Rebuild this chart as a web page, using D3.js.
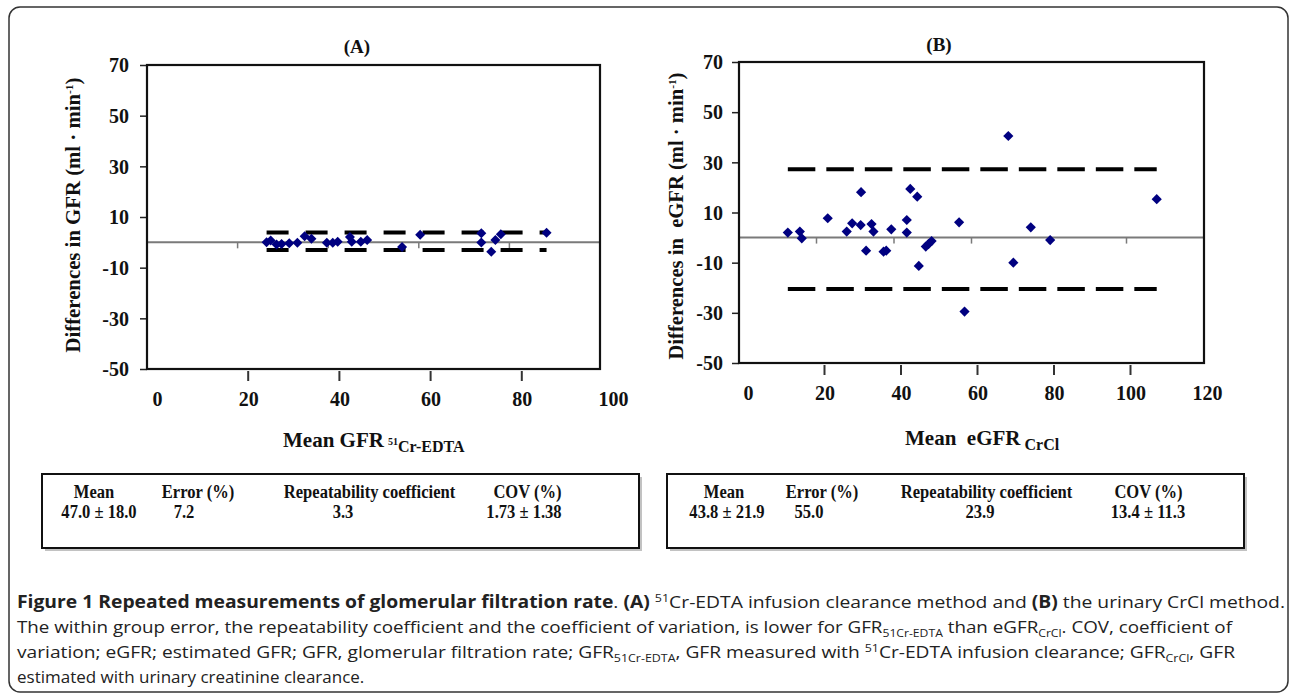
<!DOCTYPE html>
<html>
<head>
<meta charset="utf-8">
<script src="https://cdn.jsdelivr.net/npm/d3@7/dist/d3.min.js"></script>
<style>
  html, body { margin: 0; padding: 0; background: #fff; }
  svg { display: block; }
  .serif { font-family: "Liberation Serif", "Times New Roman", serif; font-weight: bold; fill: #111; }
  .cap { font-family: "Open Sans", "Noto Sans", sans-serif; fill: #222; }
</style>
</head>
<body>
<svg id="chart" width="1290" height="693"></svg>
<script>
// ---------- data ----------
const yTicks = [70, 50, 30, 10, -10, -30, -50];
const aXTicks = [0, 20, 40, 60, 80, 100];
const bXTicks = [0, 20, 40, 60, 80, 100, 120];

// Panel A: mean GFR (51Cr-EDTA) vs difference
const aMean = [26.4, 27.3, 28.6, 29.7, 31.4, 33.2, 34.8, 36.3, 39.7, 41.0, 42.1, 44.8, 45.2, 47.2, 48.6, 56.3, 60.3, 73.8, 73.8, 76.0, 76.9, 78.1, 88.2];
const aDiff = [0.0, 0.7, -0.9, -0.7, -0.4, -0.2, 2.4, 1.4, -0.2, -0.2, 0.2, 2.1, 0.2, 0.2, 0.9, -1.8, 3.0, 3.6, -0.1, -3.7, 0.9, 3.2, 3.8];
const aLimits = [3.9, -3.0];

// Panel B: mean eGFR (CrCl) vs difference
const bMean = [12.6, 15.7, 16.2, 22.9, 27.8, 29.2, 31.4, 31.5, 32.8, 34.2, 34.7, 37.3, 38.0, 39.3, 43.3, 43.3, 44.2, 46.0, 46.4, 48.2, 48.9, 49.7, 56.8, 58.2, 69.5, 70.8, 75.3, 80.3, 107.8];
const bDiff = [2.0, 2.4, -0.3, 7.7, 2.4, 5.7, 5.0, 18.1, -5.2, 5.4, 2.4, -5.6, -5.2, 3.3, 7.0, 2.0, 19.4, 16.3, -11.3, -3.6, -2.6, -1.4, 6.1, -29.5, 40.5, -10.0, 4.1, -1.0, 15.3];
const bLimits = [27.2, -20.5];

// Tables
const tableHeaders = ["Mean", "Error (%)", "Repeatability coefficient", "COV (%)"];
const aTable = ["47.0 \u00b1 18.0", "7.2", "3.3", "1.73 \u00b1 1.38"];
const bTable = ["43.8 \u00b1 21.9", "55.0", "23.9", "13.4 \u00b1 11.3"];

// ---------- drawing ----------
const svg = d3.select("#chart");
const fmt = d => String(d); // plain hyphen-minus, as in the original

// outer figure border
svg.append("rect").attr("x", 9).attr("y", 7).attr("width", 1279).attr("height", 685)
  .attr("rx", 11).attr("fill", "none").attr("stroke", "#333").attr("stroke-width", 1.5);

function panel(cfg) {
  const g = svg.append("g");
  const x = d3.scaleLinear().domain(cfg.xDomain).range(cfg.xRange);
  const y = d3.scaleLinear().domain([70, -50]).range(cfg.yRange);
  const xb = d3.scaleLinear().domain(cfg.xDomain).range(cfg.xbRange); // bottom label axis
  const [x0, x1] = cfg.xRange, [y0, y1] = cfg.yRange;

  // title
  g.append("text").attr("class", "serif").attr("x", cfg.titleX).attr("y", cfg.titleY)
    .attr("text-anchor", "middle").attr("font-size", 19).text(cfg.title);

  // y axis (left) with outward ticks
  const yAxis = d3.axisLeft(y).tickValues(yTicks).tickSize(7).tickPadding(cfg.yPad).tickFormat(fmt);
  const ya = g.append("g").attr("transform", `translate(${x0},0)`).call(yAxis);
  ya.select(".domain").remove();
  ya.selectAll("line").attr("stroke", "#222").attr("stroke-width", 1.5);
  ya.selectAll("text").attr("class", "serif").attr("font-size", 20).attr("fill", "#111").attr("dy", "0.34em");

  // bottom axis labels & ticks
  const xAxis = d3.axisBottom(xb).tickValues(cfg.xTicks).tickSize(0).tickPadding(23).tickFormat(fmt);
  const xa = g.append("g").attr("transform", `translate(0,${y1})`).call(xAxis);
  xa.select(".domain").remove();
  xa.selectAll("text").attr("class", "serif").attr("font-size", 20).attr("fill", "#111");
  g.append("g").selectAll("line").data(cfg.xTicks.slice(1, -1)).join("line")
    .attr("x1", d => xb(d)).attr("x2", d => xb(d)).attr("y1", y1 + 2).attr("y2", y1 + 12)
    .attr("stroke", "#333").attr("stroke-width", 2);

  // zero line with small ticks
  g.append("line").attr("x1", x0).attr("x2", x1).attr("y1", y(0)).attr("y2", y(0))
    .attr("stroke", "#7a7a7a").attr("stroke-width", 2);
  g.append("g").selectAll("line").data(cfg.xTicks.slice(1, -1)).join("line")
    .attr("x1", d => x(d)).attr("x2", d => x(d)).attr("y1", y(0)).attr("y2", y(0) + 6)
    .attr("stroke", "#7a7a7a").attr("stroke-width", 1.5);

  // limits of agreement (dashed), spanning data range
  const ext = d3.extent(cfg.xs);
  g.append("g").selectAll("line").data(cfg.limits).join("line")
    .attr("x1", x(ext[0])).attr("x2", x(ext[1]))
    .attr("y1", d => y(d)).attr("y2", d => y(d))
    .attr("stroke", "#000").attr("stroke-width", 4).attr("stroke-dasharray", cfg.dash);

  // points (diamonds)
  const sym = d3.symbol().type(d3.symbolSquare).size(cfg.markSize);
  g.append("g").selectAll("path").data(cfg.xs.map((v, i) => [v, cfg.ys[i]])).join("path")
    .attr("d", sym)
    .attr("transform", d => `translate(${x(d[0])},${y(d[1])}) rotate(45)`)
    .attr("fill", "#000080");

  // frame
  g.append("rect").attr("x", x0).attr("y", y0).attr("width", x1 - x0).attr("height", y1 - y0)
    .attr("fill", "none").attr("stroke", "#111").attr("stroke-width", 2.2);

  // y axis title
  const yt = g.append("text").attr("class", "serif").attr("font-size", 20)
    .attr("transform", `translate(${cfg.yTitleX},${cfg.yTitleY}) rotate(-90)`)
    .attr("text-anchor", "middle")
    .attr("textLength", cfg.yTitleLen).attr("lengthAdjust", "spacingAndGlyphs");
  yt.append("tspan").text(cfg.yTitle + " (ml \u00b7 min");
  yt.append("tspan").attr("font-size", 11).attr("dy", -7).text("-1");
  yt.append("tspan").attr("dy", 7).text(")");

  // x axis title
  const xt = g.append("text").attr("class", "serif").attr("x", cfg.xTitleX).attr("y", cfg.xTitleY)
    .attr("font-size", 21);
  xt.append("tspan").text(cfg.xTitle);
  if (cfg.xSubPre) xt.append("tspan").attr("font-size", 10).attr("dx", 4).attr("dy", -2).text(cfg.xSubPre);
  xt.append("tspan").attr("font-size", 16).attr("dx", cfg.xSubPre ? 0 : 4).attr("dy", cfg.xSubPre ? 7 : 5).text(cfg.xSub);
}

panel({
  title: "(A)", titleX: 357, titleY: 53,
  xDomain: [0, 100], xRange: [147, 600], xbRange: [157, 613], yRange: [65, 369],
  xTicks: aXTicks, yPad: 11,
  xs: aMean, ys: aDiff, limits: aLimits, dash: "22,17", markSize: 50,
  yTitle: "Differences in GFR", yTitleX: 80, yTitleY: 215, yTitleLen: 275,
  xTitle: "Mean GFR", xSubPre: "51", xSub: "Cr-EDTA", xTitleX: 283, xTitleY: 447
});

panel({
  title: "(B)", titleX: 939, titleY: 51,
  xDomain: [0, 120], xRange: [739, 1204], xbRange: [748, 1207], yRange: [62, 363],
  xTicks: bXTicks, yPad: 9,
  xs: bMean, ys: bDiff, limits: bLimits, dash: "27.5,11", markSize: 52,
  yTitle: "Differences in \u00a0eGFR", yTitleX: 683, yTitleY: 216, yTitleLen: 287,
  xTitle: "Mean \u00a0eGFR", xSubPre: null, xSub: "CrCl", xTitleX: 905, xTitleY: 445
});

// ---------- tables ----------
function table(box, headerX, valueX, values) {
  const g = svg.append("g");
  g.append("rect").attr("x", box[0] + 3).attr("y", box[1] + 3).attr("width", box[2]).attr("height", box[3])
    .attr("fill", "#9a9a9a").attr("opacity", 0.6);
  g.append("rect").attr("x", box[0]).attr("y", box[1]).attr("width", box[2]).attr("height", box[3])
    .attr("fill", "#fff").attr("stroke", "#111").attr("stroke-width", 2);
  g.selectAll("text.h").data(tableHeaders).join("text").attr("class", "serif h")
    .attr("transform", (d, i) => `translate(${headerX[i]},498) scale(0.92,1.08)`).attr("text-anchor", "middle")
    .attr("font-size", 18).text(d => d);
  g.selectAll("text.v").data(values).join("text").attr("class", "serif v")
    .attr("transform", (d, i) => `translate(${valueX[i]},518) scale(0.92,1.08)`).attr("text-anchor", "middle")
    .attr("font-size", 18).text(d => d);
}
table([42, 474, 597, 74], [94, 198, 369.5, 527.5], [99, 184, 343, 524], aTable);
table([667, 474, 577, 74], [724, 822, 986.5, 1148.5], [727, 809, 980, 1148], bTable);

// ---------- caption ----------
const cap = svg.append("g").attr("class", "cap").attr("font-size", 17);
function line(y, parts, len) {
  const t = cap.append("text").attr("x", 17).attr("y", y);
  if (len) t.attr("textLength", len).attr("lengthAdjust", "spacingAndGlyphs");
  parts.forEach(p => {
    const s = t.append("tspan").text(p.t);
    if (p.b) s.attr("font-weight", "bold");
    if (p.sub) s.attr("font-size", 11).attr("dy", 4);
    if (p.sup) s.attr("font-size", 11).attr("dy", -6);
    if (p.back) s.attr("dy", p.back);
  });
}
line(608, [
  {t: "Figure 1 Repeated measurements of glomerular filtration rate", b: true},
  {t: ". "}, {t: "(A)", b: true}, {t: " "}, {t: "51", sup: true},
  {t: "Cr-EDTA infusion clearance method and ", back: 6}, {t: "(B)", b: true},
  {t: " the urinary CrCl method."}
], 1268);
line(633, [
  {t: "The within group error, the repeatability coefficient and the coefficient of variation, is lower for GFR"},
  {t: "51Cr-EDTA", sub: true}, {t: " than eGFR", back: -4}, {t: "CrCl", sub: true},
  {t: ". COV, coefficient of", back: -4}
], 1215);
line(658, [
  {t: "variation; eGFR; estimated GFR; GFR, glomerular filtration rate; GFR"},
  {t: "51Cr-EDTA", sub: true}, {t: ", GFR measured with ", back: -4}, {t: "51", sup: true},
  {t: "Cr-EDTA infusion clearance; GFR", back: 6}, {t: "CrCl", sub: true}, {t: ", GFR", back: -4}
], 1218);
line(683, [{t: "estimated with urinary creatinine clearance."}]);
</script>
</body>
</html>
